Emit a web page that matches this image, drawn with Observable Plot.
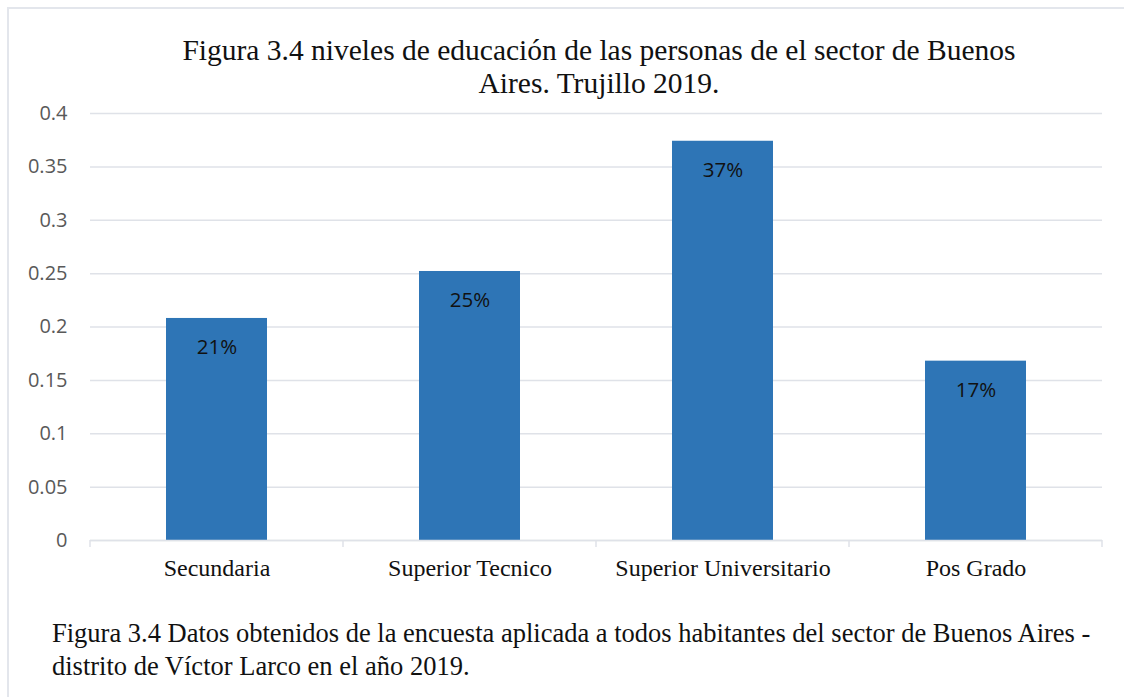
<!DOCTYPE html>
<html>
<head>
<meta charset="utf-8">
<script src="https://cdn.jsdelivr.net/npm/d3@7"></script>
<script src="https://cdn.jsdelivr.net/npm/@observablehq/plot@0.6"></script>
<style>
  html, body { margin: 0; padding: 0; background: #fff; }
  #wrap { position: relative; width: 1124px; height: 697px; overflow: hidden; background: #fff; }
  #frameTop { position: absolute; left: 8px; top: 7px; width: 1116px; height: 2px; background: #e3e6ec; }
  #frameLeft { position: absolute; left: 7px; top: 7px; width: 2px; height: 700px; background: #e3e6ec; }
  #title { position: absolute; left: 0; top: 33.5px; width: 1198px; text-align: center;
           font-family: "Liberation Serif", "Times New Roman", serif; font-size: 29.5px; line-height: 33px; color: #111; }
  #chart { position: absolute; left: 0; top: 0; }
  #caption { position: absolute; left: 52px; top: 616.5px; width: 1070px;
             font-family: "Liberation Serif", "Times New Roman", serif; font-size: 26.5px; line-height: 33px; color: #111; white-space: nowrap; }
</style>
</head>
<body>
<div id="wrap">
  <div id="chart"></div>
  <div id="frameTop"></div>
  <div id="frameLeft"></div>
  <div id="title"></div>
  <div id="caption"></div>
</div>
<script>
const titleLines = ["Figura 3.4 niveles de educación de las personas de el sector de Buenos", "Aires. Trujillo 2019."];
const captionLines = ["Figura 3.4 Datos obtenidos de la encuesta aplicada a todos habitantes del sector de Buenos Aires -", "distrito de Víctor Larco en el año 2019."];
const categories = ["Secundaria", "Superior Tecnico", "Superior Universitario", "Pos Grado"];
const values = [0.208, 0.252, 0.374, 0.168];
const labels = ["21%", "25%", "37%", "17%"];
const yTicks = [0, 0.05, 0.1, 0.15, 0.2, 0.25, 0.3, 0.35, 0.4];
const yTickLabels = ["0", "0.05", "0.1", "0.15", "0.2", "0.25", "0.3", "0.35", "0.4"];

const data = categories.map((c, i) => ({category: c, value: values[i], label: labels[i]}));

document.getElementById("title").innerHTML = titleLines.map(t => `<div>${t}</div>`).join("");
document.getElementById("caption").innerHTML = captionLines.map(t => `<div>${t}</div>`).join("");

const gridColor = "#dfe2e8";

const plot = Plot.plot({
  width: 1124,
  height: 600,
  marginLeft: 90,
  marginRight: 22,
  marginTop: 113,
  marginBottom: 60,
  style: {background: "transparent", overflow: "visible"},
  x: {domain: categories, paddingInner: 0.6, paddingOuter: 0.3, label: null},
  y: {type: "linear", domain: [0, 0.4], label: null},
  marks: [
    Plot.gridY(yTicks, {stroke: gridColor, strokeOpacity: 1, strokeWidth: 1.5}),
    Plot.axisY(yTicks, {
      tickSize: 0, tickPadding: 23, label: null,
      tickFormat: (d) => yTickLabels[yTicks.indexOf(d)],
      fontFamily: "Open Sans", fontSize: 20, fill: "#595959"
    }),
    Plot.barY(data, {x: "category", y: "value", fill: "#2e75b6"}),
    Plot.ruleY([0], {stroke: gridColor, strokeWidth: 1.5}),
    Plot.axisX({
      tickSize: 0, tickPadding: 18, label: null,
      fontFamily: "Liberation Serif", fontSize: 24, fill: "#111"
    }),
    Plot.text(data, {x: "category", y: "value", text: "label", dy: 29,
      fontFamily: "Open Sans", fontSize: 20.5, fill: "#111"})
  ]
});
document.getElementById("chart").appendChild(plot);

// boundary ticks below the baseline, placed from the x band scale
const xs = plot.scale("x");
const ys = plot.scale("y");
const y0 = ys.apply(0);
const gap = (xs.step - xs.bandwidth) / 2;
const edges = categories.map(c => xs.apply(c) - gap);
edges.push(xs.apply(categories[categories.length - 1]) + xs.bandwidth + gap);
d3.select(plot).append("g").selectAll("line").data(edges).join("line")
  .attr("x1", d => d).attr("x2", d => d)
  .attr("y1", y0).attr("y2", y0 + 7)
  .attr("stroke", gridColor).attr("stroke-width", 1.5);
</script>
</body>
</html>
